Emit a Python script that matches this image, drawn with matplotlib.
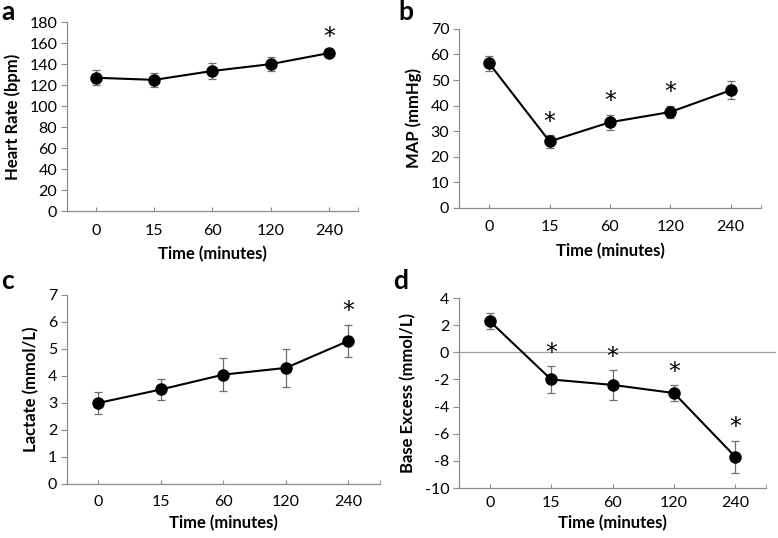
import numpy as np
import matplotlib.pyplot as plt

plt.rcParams['font.family'] = ['Lato', 'DejaVu Sans']
plt.rcParams['axes.unicode_minus'] = False

times = ["0", "15", "60", "120", "240"]

hr_mean = [127, 125, 133.5, 140, 150.5]
hr_err = [7, 7, 8, 7, 3]
hr_sig = [False, False, False, False, True]

map_mean = [56.5, 26, 33.5, 37.5, 46]
map_err = [3, 2.5, 3, 2.5, 3.5]
map_sig = [False, True, True, True, False]

lac_mean = [3.0, 3.5, 4.05, 4.3, 5.3]
lac_err = [0.4, 0.4, 0.6, 0.7, 0.6]
lac_sig = [False, False, False, False, True]

be_mean = [2.3, -2.0, -2.4, -3.0, -7.7]
be_err = [0.6, 1.0, 1.1, 0.6, 1.2]
be_sig = [False, True, True, True, True]

spine_col = "#8c8c8c"

fig = plt.figure(figsize=(7.78, 5.38), dpi=100)


def panel(rect, mean, err, sig, ylim, step, ylabel, letter, letter_pos,
          tpad=9, lpad=6):
    ax = fig.add_axes(rect)
    x = np.arange(len(times))
    ax.errorbar(x, mean, yerr=err, fmt="none", ecolor="#6e6e6e",
                elinewidth=0.9, capsize=3, capthick=0.9, zorder=2)
    ax.plot(x, mean, color="black", lw=1.5, marker="o", ms=8, zorder=3)
    for i in range(len(x)):
        if sig[i]:
            ax.annotate("*", (x[i], mean[i] + err[i]), xytext=(0, 1),
                        textcoords="offset points", ha="center", va="bottom",
                        fontsize=17, family="DejaVu Sans")
    ax.set_xlim(-0.5, len(times) - 0.5)
    ax.set_ylim(*ylim)
    ax.set_yticks(np.arange(ylim[0], ylim[1] + step / 2, step))
    ax.set_xticks(x)
    ax.set_xticks([len(times) - 0.5], minor=True)
    ax.set_xticklabels(times)
    for s in ["top", "right"]:
        ax.spines[s].set_visible(False)
    for s in ["left", "bottom"]:
        ax.spines[s].set_color(spine_col)
        ax.spines[s].set_linewidth(0.9)
    ax.tick_params(axis="y", direction="out", length=4, color=spine_col,
                   labelsize=11.5, pad=3)
    ax.tick_params(axis="x", which="both", direction="in", length=3,
                   color=spine_col, labelsize=11.5, pad=tpad)
    ax.set_ylabel(ylabel, fontsize=12, fontweight="bold", labelpad=6)
    ax.set_xlabel("Time (minutes)", fontsize=12, fontweight="bold",
                  labelpad=lpad)
    fig.text(letter_pos[0], letter_pos[1], letter, fontsize=19,
             fontweight="bold", va="top", ha="left")
    return ax


panel([0.0861, 0.6078, 0.374, 0.351], hr_mean, hr_err, hr_sig, (0, 180), 20,
      "Heart Rate (bpm)", "a", (0.002, 1.0))
panel([0.590, 0.6134, 0.388, 0.333], map_mean, map_err, map_sig, (0, 70), 10,
      "MAP (mmHg)", "b", (0.512, 1.0))
panel([0.0861, 0.1004, 0.402, 0.3513], lac_mean, lac_err, lac_sig, (0, 7), 1,
      "Lactate (mmol/L)", "c", (0.002, 0.5), tpad=8, lpad=4)
ax_d = panel([0.590, 0.0929, 0.3946, 0.3531], be_mean, be_err, be_sig,
             (-10, 4), 2, "Base Excess (mmol/L)", "d", (0.505, 0.5),
             tpad=6, lpad=3)
ax_d.axhline(0, xmax=1.03, color="#a0a0a0", lw=0.9, zorder=1, clip_on=False)

fig.savefig("out.png", dpi=100)
